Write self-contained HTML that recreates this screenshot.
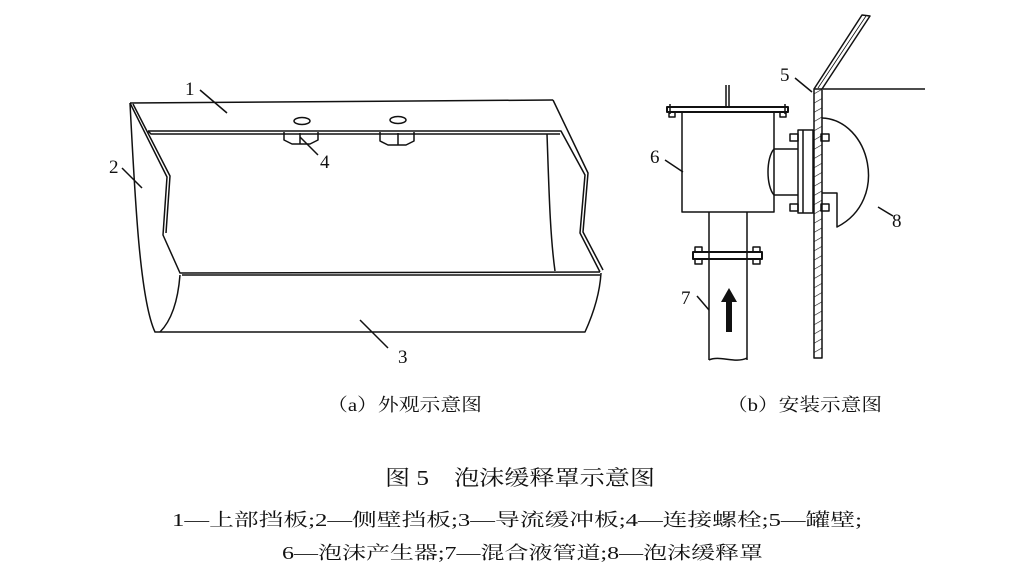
<!DOCTYPE html>
<html><head><meta charset="utf-8"><style>
html,body{margin:0;padding:0;background:#fff;}
svg{display:block}
text{font-family:"Liberation Serif","Noto Serif CJK SC",serif;fill:#111}
</style></head><body>
<svg width="1009" height="577" viewBox="0 0 1009 577" xmlns="http://www.w3.org/2000/svg">
<defs>
<pattern id="h" width="8" height="8" patternUnits="userSpaceOnUse" patternTransform="rotate(60)">
<line x1="0" y1="0" x2="0" y2="8" stroke="#111" stroke-width="1.2"/></pattern>
</defs>
<g fill="none" stroke="#111" stroke-width="1.5" stroke-linejoin="round">
<!-- (a) -->
<path d="M130,103 L553,100"/>
<path d="M130,103 L167,177 L163,235 L180,273 L600,272"/>
<path d="M133,104 L170,176 L166,233"/>
<path d="M148,131 L561,131 L585,175 L580,233 L600,272"/>
<path d="M553,100 L588,173 L583,232 L603,270"/>
<path d="M148,131 L151,134 L560,134"/>
<path d="M547,134 C549,190 550,235 555,271"/>
<path d="M130,103 C135,200 140,300 155,332 L585,332 C595,310 600,290 601,273"/>
<path d="M180,275 C178,300 172,320 160,332"/>
<path d="M182,275 L600,275"/>
<ellipse cx="302" cy="121" rx="8" ry="3.5"/>
<ellipse cx="398" cy="120" rx="8" ry="3.5"/>
<path d="M284,132 L284,140 L292,144 L310,144 L318,140 L318,132"/>
<path d="M380,132 L380,141 L388,145 L406,145 L414,141 L414,132"/>
<path d="M398,133 L398,145 M300,133 L300,144"/>
<path d="M200,90 L227,113 M122,168 L142,188 M300,137 L318,155 M360,320 L388,348"/>
<!-- (b) -->
<rect x="682" y="112" width="92" height="100"/>
<rect x="667" y="107" width="121" height="5" stroke-width="2"/>
<path d="M670,104 v10 M785,104 v10"/>
<rect x="669" y="112" width="6" height="5"/>
<rect x="780" y="112" width="6" height="5"/>
<path d="M726,85 L726,107 M729,85 L729,107"/>
<path d="M709,212 L709,360 M747,212 L747,360"/>
<path d="M709,360 C720,355 735,364 747,358"/>
<rect x="693" y="252" width="69" height="7" stroke-width="2"/>
<rect x="695" y="247" width="7" height="5"/><rect x="753" y="247" width="7" height="5"/>
<rect x="695" y="259" width="7" height="5"/><rect x="753" y="259" width="7" height="5"/>
<path d="M774,149 L798,149 M774,195 L798,195"/>
<path d="M774,149 C766,158 766,186 774,195"/>
<rect x="798" y="130" width="15" height="83"/>
<path d="M803,130 L803,213"/>
<rect x="790" y="134" width="8" height="7"/><rect x="790" y="204" width="8" height="7"/>
<rect x="821" y="134" width="8" height="7"/><rect x="821" y="204" width="8" height="7"/>
<rect x="814" y="89" width="8" height="269" fill="url(#h)"/>
<path d="M814,89 L862,15 L870,16 L822,89"/>
<path d="M818,88 L866,16" stroke-width="0.8"/>
<path d="M823,89 L925,89"/>
<path d="M822,118 C870,120 890,200 837,227 L837,193 L822,193"/>
<path d="M795,78 L812,92 M665,160 L683,172 M697,296 L709,310 M878,207 L893,216"/>
</g>
<path d="M726,332 L726,302 L721,302 L729,288 L737,302 L732,302 L732,332 Z" fill="#111"/>
<g font-size="19">
<text x="185" y="95">1</text>
<text x="109" y="173">2</text>
<text x="320" y="168">4</text>
<text x="398" y="363">3</text>
<text x="780" y="81">5</text>
<text x="650" y="163">6</text>
<text x="681" y="304">7</text>
<text x="892" y="227">8</text>
</g>
<text x="327" y="411" font-size="18" textLength="155" lengthAdjust="spacingAndGlyphs">（a）外观示意图</text>
<text x="727" y="411" font-size="18" textLength="155" lengthAdjust="spacingAndGlyphs">（b）安装示意图</text>
<text x="385" y="485" font-size="21" textLength="270" lengthAdjust="spacingAndGlyphs">图 5　泡沫缓释罩示意图</text>
<text x="172" y="526" font-size="18" textLength="690" lengthAdjust="spacingAndGlyphs">1—上部挡板;2—侧壁挡板;3—导流缓冲板;4—连接螺栓;5—罐壁;</text>
<text x="282" y="559" font-size="18" textLength="481" lengthAdjust="spacingAndGlyphs">6—泡沫产生器;7—混合液管道;8—泡沫缓释罩</text>
</svg>
</body></html>
